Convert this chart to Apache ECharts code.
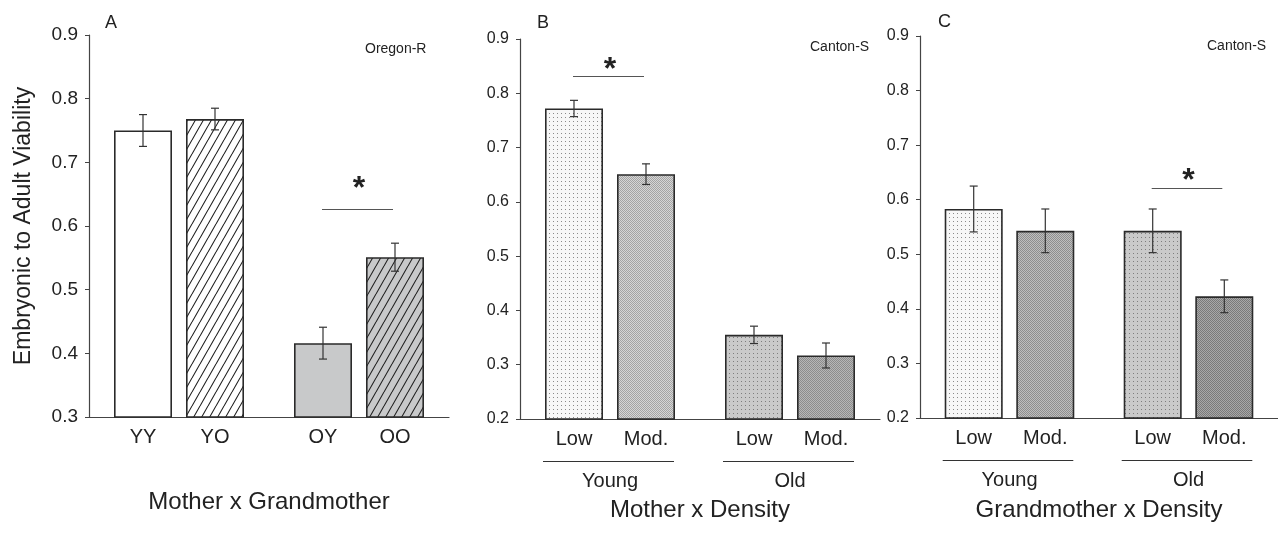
<!DOCTYPE html>
<html>
<head>
<meta charset="utf-8">
<script src="https://cdn.jsdelivr.net/npm/echarts@6/dist/echarts.min.js"></script>
<style>
  html, body { margin: 0; padding: 0; background: #fff; }
  #chart { width: 1278px; height: 548px; }
</style>
</head>
<body>
<div id="chart"></div>
<script>
// panel A: mother x grandmother (Oregon-R)
const labelsA = ['YY', 'YO', 'OY', 'OO']
const meanA = [0.750, 0.768, 0.416, 0.551]
const errA = [0.025, 0.017, 0.025, 0.022]

// panel B: mother x density (Canton-S)
const labelsB = ['Low', 'Mod.', 'Low', 'Mod.']
const meanB = [0.772, 0.651, 0.355, 0.317]
const errB = [0.015, 0.019, 0.016, 0.023]

// panel C: grandmother x density (Canton-S)
const labelsC = ['Low', 'Mod.', 'Low', 'Mod.']
const meanC = [0.583, 0.543, 0.543, 0.423]
const errC = [0.042, 0.040, 0.040, 0.030]

const groups = ['Young', 'Old']
const ticksA = [0.3, 0.4, 0.5, 0.6, 0.7, 0.8, 0.9]
const ticksBC = [0.2, 0.3, 0.4, 0.5, 0.6, 0.7, 0.8, 0.9]

// significance bars: [first bar, second bar, height]
const sigA = [[2, 3, 0.626]]
const sigB = [[0, 1, 0.831]]
const sigC = [[2, 3, 0.622]]

const FONT = '"Liberation Sans", Arial, sans-serif'
const INK = '#222'

// bars sit on category slots, with a wider gap between the two groups
const SLOTS = [1, 3, 6, 8]
const N_SLOTS = 10

function axisCats(labels) {
  const cats = []
  for (let i = 0; i < N_SLOTS; i++) cats.push('')
  SLOTS.forEach((s, i) => { cats[s] = labels[i] })
  return cats
}

// --- fill patterns ---
function canvasOf(w, h, draw) {
  const c = document.createElement('canvas')
  c.width = w
  c.height = h
  draw(c.getContext('2d'))
  return { image: c, repeat: 'repeat' }
}
function hatch(bg) {
  return canvasOf(8, 14, ctx => {
    ctx.fillStyle = bg
    ctx.fillRect(0, 0, 8, 14)
    ctx.strokeStyle = '#222'
    ctx.lineWidth = 1.1
    ctx.beginPath()
    for (let k = -1; k <= 1; k++) {
      ctx.moveTo(k * 8, 14)
      ctx.lineTo(k * 8 + 8, 0)
    }
    ctx.stroke()
  })
}
function dots(bg, dot) {
  return canvasOf(4, 4, ctx => {
    ctx.fillStyle = bg
    ctx.fillRect(0, 0, 4, 4)
    ctx.fillStyle = dot
    ctx.fillRect(1, 1, 1, 1)
  })
}
function checker(c1, c2) {
  return canvasOf(2, 2, ctx => {
    ctx.fillStyle = c1
    ctx.fillRect(0, 0, 2, 2)
    ctx.fillStyle = c2
    ctx.fillRect(0, 0, 1, 1)
    ctx.fillRect(1, 1, 1, 1)
  })
}

const fillsA = ['#ffffff', hatch('#ffffff'), '#c8c9ca', hatch('#c8c9ca')]
const fillsB = [dots('#f7f7f7', '#8a8a8a'), checker('#d6d6d6', '#a4a4a4'), dots('#cacaca', '#7e7e7e'), checker('#b6b6b6', '#8c8c8c')]
const fillsC = [dots('#f7f7f7', '#8a8a8a'), checker('#bebebe', '#8e8e8e'), dots('#cacaca', '#7e7e7e'), checker('#a8a8a8', '#7a7a7a')]

// --- grids / axes ---
const grids = [
  { left: 89, top: 35, width: 360, height: 382 },
  { left: 520, top: 39, width: 360, height: 380 },
  { left: 920, top: 36, width: 360, height: 382 }
]

function xAxisOf(idx, labels, name, nameGap) {
  return {
    type: 'category',
    gridIndex: idx,
    data: axisCats(labels),
    axisLine: { lineStyle: { color: '#444', width: 1.2 } },
    axisTick: { show: false },
    axisLabel: { interval: 0, margin: 10, fontSize: 20, color: INK, fontFamily: FONT },
    name: name,
    nameLocation: 'middle',
    nameGap: nameGap,
    nameTextStyle: { fontSize: 24, color: INK, fontFamily: FONT }
  }
}
function yAxisOf(idx, ticks, labelSize) {
  return {
    type: 'value',
    gridIndex: idx,
    min: ticks[0],
    max: ticks[ticks.length - 1],
    interval: 0.1,
    splitLine: { show: false },
    axisLine: { show: true, lineStyle: { color: '#444', width: 1.2 } },
    axisTick: { show: true, inside: false, length: 4, lineStyle: { color: '#444' } },
    axisLabel: {
      margin: 11,
      fontSize: labelSize,
      color: INK,
      fontFamily: FONT,
      formatter: v => v.toFixed(1)
    }
  }
}

const xAxes = [
  xAxisOf(0, labelsA, 'Mother x Grandmother', 73),
  xAxisOf(1, labelsB, 'Mother x Density', 79),
  xAxisOf(2, labelsC, 'Grandmother x Density', 80)
]
const yAxes = [
  yAxisOf(0, ticksA, 19),
  yAxisOf(1, ticksBC, 16),
  yAxisOf(2, ticksBC, 16)
]
yAxes[0].name = 'Embryonic to Adult Viability'
yAxes[0].nameLocation = 'middle'
yAxes[0].nameGap = 54
yAxes[0].nameTextStyle = { fontSize: 23, color: INK, fontFamily: FONT }

// --- series ---
function barSeries(idx, means, fills) {
  const data = []
  for (let i = 0; i < N_SLOTS; i++) data.push('-')
  SLOTS.forEach((s, i) => {
    data[s] = { value: means[i], itemStyle: { color: fills[i] } }
  })
  return {
    type: 'bar',
    xAxisIndex: idx,
    yAxisIndex: idx,
    barWidth: 58,
    z: 2,
    data: data,
    itemStyle: { borderColor: '#2a2a2a', borderWidth: 1.6 },
    emphasis: { disabled: true },
    silent: true
  }
}

function errorSeries(idx, means, errs) {
  return {
    type: 'custom',
    xAxisIndex: idx,
    yAxisIndex: idx,
    z: 10,
    silent: true,
    data: SLOTS.map((s, i) => [s, means[i] - errs[i], means[i] + errs[i]]),
    renderItem(params, api) {
      const lo = api.coord([api.value(0), api.value(1)])
      const hi = api.coord([api.value(0), api.value(2)])
      const hw = 4
      const style = { stroke: '#333', lineWidth: 1.2 }
      return {
        type: 'group',
        children: [
          { type: 'line', shape: { x1: lo[0], y1: lo[1], x2: hi[0], y2: hi[1] }, style },
          { type: 'line', shape: { x1: lo[0] - hw, y1: lo[1], x2: lo[0] + hw, y2: lo[1] }, style },
          { type: 'line', shape: { x1: hi[0] - hw, y1: hi[1], x2: hi[0] + hw, y2: hi[1] }, style }
        ]
      }
    }
  }
}

function sigSeries(idx, sig, starLift) {
  return {
    type: 'custom',
    xAxisIndex: idx,
    yAxisIndex: idx,
    z: 10,
    silent: true,
    clip: false,
    data: sig.map(d => [SLOTS[d[0]], SLOTS[d[1]], d[2]]),
    renderItem(params, api) {
      const p1 = api.coord([api.value(0), api.value(2)])
      const p2 = api.coord([api.value(1), api.value(2)])
      const y = Math.round(p1[1]) + 0.5
      return {
        type: 'group',
        children: [
          { type: 'line', shape: { x1: p1[0] - 1, y1: y, x2: p2[0] - 2, y2: y }, style: { stroke: '#555', lineWidth: 1.2 } },
          {
            type: 'text',
            x: (p1[0] + p2[0]) / 2,
            y: y - starLift,
            style: { text: '*', fontSize: 32, fontWeight: 'bold', fill: INK, fontFamily: FONT, align: 'center', verticalAlign: 'middle' }
          }
        ]
      }
    }
  }
}

function groupSeries(idx) {
  return {
    type: 'custom',
    xAxisIndex: idx,
    yAxisIndex: idx,
    silent: true,
    clip: false,
    data: [[SLOTS[0], SLOTS[1]], [SLOTS[2], SLOTS[3]]],
    renderItem(params, api) {
      const base = api.coord([api.value(0), ticksBC[0]])
      const end = api.coord([api.value(1), ticksBC[0]])
      const y = Math.round(base[1]) + 42.5
      return {
        type: 'group',
        children: [
          { type: 'line', shape: { x1: base[0] - 31, y1: y, x2: end[0] + 28, y2: y }, style: { stroke: '#333', lineWidth: 1.2 } },
          {
            type: 'text',
            x: (base[0] + end[0]) / 2,
            y: y + 20,
            style: { text: groups[params.dataIndex], fontSize: 20, fill: INK, fontFamily: FONT, align: 'center', verticalAlign: 'middle' }
          }
        ]
      }
    }
  }
}

const titleStyle = { fontWeight: 'normal', color: INK, fontFamily: FONT }
const option = {
  animation: false,
  backgroundColor: '#fff',
  title: [
    { text: 'A', left: 105, top: 14, padding: 0, textStyle: { ...titleStyle, fontSize: 18 } },
    { text: 'B', left: 537, top: 14, padding: 0, textStyle: { ...titleStyle, fontSize: 18 } },
    { text: 'C', left: 938, top: 13, padding: 0, textStyle: { ...titleStyle, fontSize: 18 } },
    { text: 'Oregon-R', left: 365, top: 42, padding: 0, textStyle: { ...titleStyle, fontSize: 14 } },
    { text: 'Canton-S', left: 810, top: 40, padding: 0, textStyle: { ...titleStyle, fontSize: 14 } },
    { text: 'Canton-S', left: 1207, top: 39, padding: 0, textStyle: { ...titleStyle, fontSize: 14 } }
  ],
  grid: grids,
  xAxis: xAxes,
  yAxis: yAxes,
  series: [
    barSeries(0, meanA, fillsA),
    barSeries(1, meanB, fillsB),
    barSeries(2, meanC, fillsC),
    errorSeries(0, meanA, errA),
    errorSeries(1, meanB, errB),
    errorSeries(2, meanC, errC),
    sigSeries(0, sigA, 20),
    sigSeries(1, sigB, 6),
    sigSeries(2, sigC, 7),
    groupSeries(1),
    groupSeries(2)
  ]
}

const chart = echarts.init(document.getElementById('chart'))
chart.setOption(option)
</script>
</body>
</html>
